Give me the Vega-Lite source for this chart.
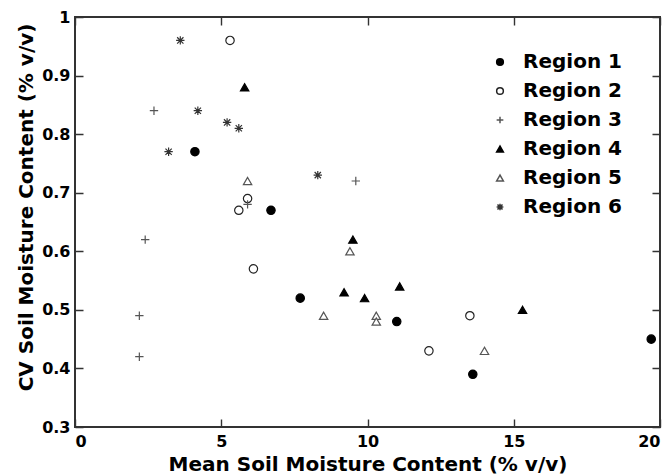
{
  "$schema": "https://vega.github.io/schema/vega-lite/v6.json",
  "width": 585,
  "height": 410,
  "autosize": {"type": "none"},
  "padding": {"left": 75, "top": 17, "right": 11, "bottom": 48},
  "background": "white",
  "config": {
    "view": {"stroke": "#333333", "strokeWidth": 2},
    "font": "DejaVu Sans",
    "axis": {
      "domain": false,
      "ticks": false,
      "grid": true,
      "gridColor": "#333333",
      "gridWidth": 1.4,
      "gridOpacity": 1,
      "zindex": 1,
      "labelFont": "DejaVu Sans",
      "labelFontWeight": "bold",
      "labelFontSize": 16,
      "labelColor": "black",
      "titleFont": "DejaVu Sans",
      "titleFontWeight": "bold",
      "titleFontSize": 20,
      "titleColor": "black"
    }
  },
  "data": {
    "values": [
      {"x": 4.1, "y": 0.77, "region": "Region 1"},
      {"x": 6.7, "y": 0.67, "region": "Region 1"},
      {"x": 7.7, "y": 0.52, "region": "Region 1"},
      {"x": 11.0, "y": 0.48, "region": "Region 1"},
      {"x": 13.6, "y": 0.39, "region": "Region 1"},
      {"x": 19.7, "y": 0.45, "region": "Region 1"},
      {"x": 5.3, "y": 0.96, "region": "Region 2"},
      {"x": 5.6, "y": 0.67, "region": "Region 2"},
      {"x": 5.9, "y": 0.69, "region": "Region 2"},
      {"x": 6.1, "y": 0.57, "region": "Region 2"},
      {"x": 12.1, "y": 0.43, "region": "Region 2"},
      {"x": 13.5, "y": 0.49, "region": "Region 2"},
      {"x": 2.7, "y": 0.84, "region": "Region 3"},
      {"x": 2.4, "y": 0.62, "region": "Region 3"},
      {"x": 2.2, "y": 0.49, "region": "Region 3"},
      {"x": 2.2, "y": 0.42, "region": "Region 3"},
      {"x": 5.9, "y": 0.68, "region": "Region 3"},
      {"x": 9.6, "y": 0.72, "region": "Region 3"},
      {"x": 5.8, "y": 0.88, "region": "Region 4"},
      {"x": 9.5, "y": 0.62, "region": "Region 4"},
      {"x": 9.2, "y": 0.53, "region": "Region 4"},
      {"x": 9.9, "y": 0.52, "region": "Region 4"},
      {"x": 11.1, "y": 0.54, "region": "Region 4"},
      {"x": 15.3, "y": 0.50, "region": "Region 4"},
      {"x": 5.9, "y": 0.72, "region": "Region 5"},
      {"x": 8.5, "y": 0.49, "region": "Region 5"},
      {"x": 9.4, "y": 0.60, "region": "Region 5"},
      {"x": 10.3, "y": 0.49, "region": "Region 5"},
      {"x": 10.3, "y": 0.48, "region": "Region 5"},
      {"x": 14.0, "y": 0.43, "region": "Region 5"},
      {"x": 3.6, "y": 0.96, "region": "Region 6"},
      {"x": 4.2, "y": 0.84, "region": "Region 6"},
      {"x": 3.2, "y": 0.77, "region": "Region 6"},
      {"x": 5.2, "y": 0.82, "region": "Region 6"},
      {"x": 5.6, "y": 0.81, "region": "Region 6"},
      {"x": 8.3, "y": 0.73, "region": "Region 6"}
    ]
  },
  "layer": [
    {
      "mark": {"type": "point", "filled": true, "opacity": 1, "size": 70, "strokeWidth": 1.2},
      "encoding": {
        "x": {
          "field": "x", "type": "quantitative",
          "scale": {"domain": [0, 20], "nice": false, "zero": false},
          "axis": {
            "orient": "bottom",
            "title": "Mean Soil Moisture Content (% v/v)",
            "titleBaseline": "alphabetic",
            "titleY": 43.5,
            "values": [0, 5, 10, 15, 20],
            "gridDash": [8, 394, 8],
            "labelPadding": 6
          }
        },
        "y": {
          "field": "y", "type": "quantitative",
          "scale": {"domain": [0.3, 1], "nice": false, "zero": false},
          "axis": {
            "orient": "left",
            "title": "CV Soil Moisture Content (% v/v)",
            "titleBaseline": "alphabetic",
            "titleAngle": -90,
            "titleAlign": "center",
            "titleX": -43,
            "titleY": 190,
            "values": [0.3, 0.4, 0.5, 0.6, 0.7, 0.8, 0.9, 1],
            "format": "~g",
            "gridDash": [8, 569, 8],
            "labelPadding": 5
          }
        },
        "shape": {
          "field": "region", "type": "nominal",
          "scale": {"range": ["circle", "circle", "M-1,0H1M0,-1V1", "triangle-up", "triangle-up", "M-1,0H1M0,-1V1M-0.75,-0.75L0.75,0.75M-0.75,0.75L0.75,-0.75"]},
          "legend": {
            "title": null,
            "orient": "none",
            "legendX": 415,
            "legendY": 35,
            "labelFont": "DejaVu Sans",
            "labelFontWeight": "bold",
            "labelFontSize": 20,
            "labelColor": "black",
            "symbolSize": 45,
            "symbolOpacity": 1,
            "rowPadding": 9,
            "labelOffset": 13
          }
        },
        "fill": {
          "field": "region", "type": "nominal",
          "scale": {"range": ["black", "white", "black", "black", "white", "black"]},
          "legend": null
        },
        "stroke": {
          "field": "region", "type": "nominal",
          "scale": {"range": ["black", "#222222", "#555555", "black", "#555555", "#333333"]},
          "legend": null
        }
      }
    },
    {
      "mark": {"type": "point", "opacity": 0},
      "encoding": {
        "x": {
          "field": "x", "type": "quantitative",
          "axis": {"orient": "top", "title": null, "labels": false, "values": [2.5, 7.5, 12.5, 17.5], "gridDash": [4, 402, 4]}
        },
        "y": {
          "field": "y", "type": "quantitative",
          "axis": {"orient": "right", "title": null, "labels": false, "values": [0.35, 0.45, 0.55, 0.65, 0.75, 0.85, 0.95], "gridDash": [4, 577, 4]}
        }
      }
    }
  ],
  "resolve": {"axis": {"x": "independent", "y": "independent"}}
}
